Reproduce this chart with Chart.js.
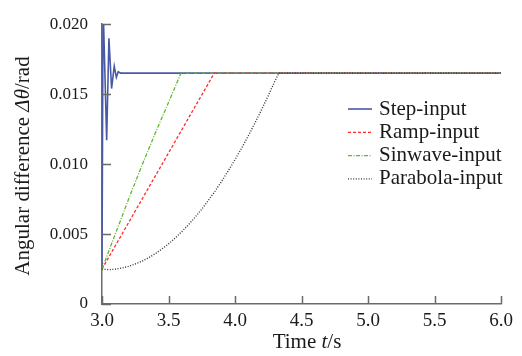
<!DOCTYPE html>
<html>
<head>
<meta charset="utf-8">
<script src="https://cdn.jsdelivr.net/npm/chart.js@4/dist/chart.umd.min.js"></script>
<style>
  html, body { margin: 0; padding: 0; background: #fff; }
  #wrap { width: 522px; height: 356px; }
</style>
</head>
<body>
<div id="wrap"><canvas id="chart"></canvas></div>
<script>
// ── Data ─────────────────────────────────────────────────────────────────────

const X_TICKS = [3.0, 3.5, 4.0, 4.5, 5.0, 5.5, 6.0];
const Y_TICKS = [0, 0.005, 0.010, 0.015, 0.020];

const LABELS = ['Step-input', 'Ramp-input', 'Sinwave-input', 'Parabola-input'];

const stepT = [3.000, 3.008, 3.035, 3.052, 3.072, 3.092, 3.108, 3.122, 3.140, 6.0];
const stepV = [0.0025, 0.0215, 0.0117, 0.0190, 0.0154, 0.0170, 0.0162, 0.0166, 0.0165, 0.0165];

const rampT = [3.0, 3.844, 6.0];
const rampV = [0.0025, 0.0165, 0.0165];

const sinT = [3.0, 3.1, 3.2, 3.3, 3.4, 3.5, 3.594, 6.0];
const sinV = [0.0025, 0.0050, 0.0075, 0.0099, 0.0122, 0.0144, 0.0165, 0.0165];

const paraT = [3.00, 3.05, 3.10, 3.15, 3.20, 3.25, 3.30, 3.35, 3.40, 3.45, 3.50,
               3.55, 3.60, 3.65, 3.70, 3.75, 3.80, 3.85, 3.90, 3.95, 4.00, 4.05,
               4.10, 4.15, 4.20, 4.25, 4.30, 4.33, 6.0];
const paraV = [0.00250, 0.00245, 0.00249, 0.00257, 0.00269, 0.00286, 0.00306, 0.00331,
               0.00359, 0.00393, 0.00430, 0.00471, 0.00517, 0.00566, 0.00620, 0.00678,
               0.00741, 0.00807, 0.00878, 0.00953, 0.01032, 0.01115, 0.01202, 0.01294,
               0.01389, 0.01489, 0.01593, 0.01650, 0.01650];

const C_STEP  = '#4a59a6';
const C_RAMP  = '#ff2b2b';
const C_SIN   = '#62b82c';
const C_PARA  = '#333333';
const C_AXIS  = '#6a6a6a';
const C_TEXT  = '#1a1a1a';
const SERIF   = '"Liberation Serif", "Times New Roman", serif';

function pts(ts, vs) { return ts.map((t, i) => ({ x: t, y: vs[i] })); }

// ── Plugins ──────────────────────────────────────────────────────────────────

// inward tick marks at each labelled value
const innerTicks = {
  id: 'innerTicks',
  afterDraw(chart) {
    const { ctx, scales: { x, y } } = chart;
    ctx.save();
    ctx.strokeStyle = C_AXIS;
    ctx.lineWidth = 1.5;
    ctx.beginPath();
    X_TICKS.forEach(v => {
      const px = Math.round(x.getPixelForValue(v)) + 0.5;
      ctx.moveTo(px, y.bottom);
      ctx.lineTo(px, y.bottom - 8);
    });
    Y_TICKS.forEach(v => {
      const py = Math.round(y.getPixelForValue(v)) + 0.5;
      ctx.moveTo(x.left, py);
      ctx.lineTo(x.left + 9, py);
    });
    ctx.stroke();
    ctx.restore();
  }
};

// axis titles with italic symbols
function drawRuns(ctx, runs, size) {
  let w = 0;
  runs.forEach(r => { ctx.font = (r.it ? 'italic ' : '') + size + 'px ' + SERIF; w += ctx.measureText(r.t).width; });
  let cx = -w / 2;
  runs.forEach(r => {
    ctx.font = (r.it ? 'italic ' : '') + size + 'px ' + SERIF;
    ctx.fillText(r.t, cx, 0);
    cx += ctx.measureText(r.t).width;
  });
}

const axisTitles = {
  id: 'axisTitles',
  afterDraw(chart) {
    const ctx = chart.ctx;
    ctx.save();
    ctx.fillStyle = C_TEXT;
    ctx.textBaseline = 'middle';
    ctx.textAlign = 'left';
    ctx.save();
    ctx.translate(307, 342);
    drawRuns(ctx, [{ t: 'Time ' }, { t: 't', it: true }, { t: '/s' }], 21);
    ctx.restore();
    ctx.save();
    ctx.translate(23, 166);
    ctx.rotate(-Math.PI / 2);
    drawRuns(ctx, [{ t: 'Angular difference ' }, { t: 'Δθ', it: true }, { t: '/rad' }], 21);
    ctx.restore();
    ctx.restore();
  }
};

// legend inside the plot area
const innerLegend = {
  id: 'innerLegend',
  afterDraw(chart) {
    const ctx = chart.ctx;
    const x0 = 348, x1 = 372, tx = 379, y0 = 109, dy = 23.3;
    ctx.save();
    ctx.textBaseline = 'middle';
    ctx.font = '21px ' + SERIF;
    chart.data.datasets.forEach((ds, i) => {
      const yy = y0 + i * dy;
      ctx.strokeStyle = ds.borderColor;
      ctx.lineWidth = ds.borderWidth;
      ctx.setLineDash(ds.borderDash || []);
      ctx.beginPath();
      ctx.moveTo(x0, yy);
      ctx.lineTo(x1, yy);
      ctx.stroke();
      ctx.setLineDash([]);
      ctx.fillStyle = C_TEXT;
      ctx.fillText(ds.label, tx, yy);
    });
    ctx.restore();
  }
};

// ── Chart ────────────────────────────────────────────────────────────────────

function line(label, data, color, width, dash, order) {
  return {
    label, data,
    borderColor: color,
    borderWidth: width,
    borderDash: dash,
    pointRadius: 0,
    tension: 0,
    fill: false,
    order,
  };
}

new Chart(document.getElementById('chart'), {
  type: 'line',
  data: {
    datasets: [
      line(LABELS[0], pts(stepT, stepV), C_STEP, 1.6, [], 4),
      line(LABELS[1], pts(rampT, rampV), C_RAMP, 1.3, [3, 2], 3),
      line(LABELS[2], pts(sinT, sinV), C_SIN, 1.3, [4, 1.5, 1, 1.5], 2),
      line(LABELS[3], pts(paraT, paraV), C_PARA, 1.4, [1, 1.6], 1),
    ]
  },
  options: {
    responsive: true,
    maintainAspectRatio: false,
    animation: false,
    layout: { padding: { top: 15, right: 21, left: 0, bottom: 0 } },
    plugins: { legend: { display: false }, tooltip: { enabled: false } },
    scales: {
      x: {
        type: 'linear',
        min: 3, max: 6,
        afterBuildTicks: s => { s.ticks = X_TICKS.map(v => ({ value: v })); },
        afterFit: s => { s.height = 52; },
        grid: { display: true, drawOnChartArea: false, drawTicks: false },
        border: { display: true, color: C_AXIS, width: 1.5 },
        ticks: {
          color: C_TEXT, padding: 6, maxRotation: 0,
          font: { family: SERIF, size: 19 },
          callback: v => v.toFixed(1)
        }
      },
      y: {
        type: 'linear',
        min: 0, max: 0.02,
        afterBuildTicks: s => { s.ticks = Y_TICKS.map(v => ({ value: v })); },
        afterFit: s => { s.width = 102; },
        grid: { display: true, drawOnChartArea: false, drawTicks: false },
        border: { display: true, color: C_AXIS, width: 1.5 },
        ticks: {
          color: C_TEXT, padding: 14,
          font: { family: SERIF, size: 17 },
          callback: v => v === 0 ? '0' : v.toFixed(3)
        }
      }
    }
  },
  plugins: [innerTicks, axisTitles, innerLegend]
});
</script>
</body>
</html>
